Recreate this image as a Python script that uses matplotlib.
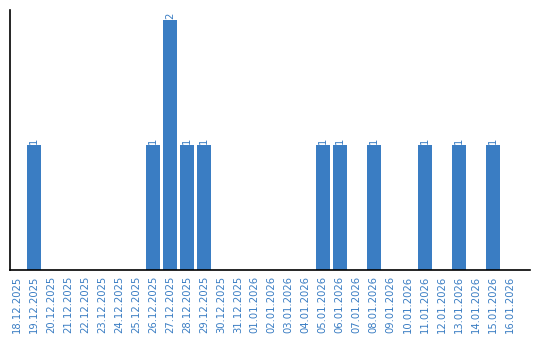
import matplotlib
matplotlib.use("Agg")
import matplotlib.pyplot as plt

dates = ["18.12.2025", "19.12.2025", "20.12.2025", "21.12.2025", "22.12.2025",
         "23.12.2025", "24.12.2025", "25.12.2025", "26.12.2025", "27.12.2025",
         "28.12.2025", "29.12.2025", "30.12.2025", "31.12.2025", "01.01.2026",
         "02.01.2026", "03.01.2026", "04.01.2026", "05.01.2026", "06.01.2026",
         "07.01.2026", "08.01.2026", "09.01.2026", "10.01.2026", "11.01.2026",
         "12.01.2026", "13.01.2026", "14.01.2026", "15.01.2026", "16.01.2026"]
counts = [0, 1, 0, 0, 0, 0, 0, 0, 1, 2,
          1, 1, 0, 0, 0, 0, 0, 0, 1, 1,
          0, 1, 0, 0, 1, 0, 1, 0, 1, 0]

blue = "#3a7dc3"
fig = plt.figure(figsize=(5.4, 3.4), dpi=100)
ax = fig.add_axes([10/540, 70/340, 520/540, 260/340])
x = list(range(len(dates)))
ax.bar(x, counts, width=0.82, color=blue)
for xi, v in zip(x, counts):
    if v > 0:
        ax.text(xi, v + 0.01, str(v), rotation=90, ha="center", va="bottom",
                color=blue, fontsize=7.2)
ax.set_xlim(-0.41, 30.2)
ax.set_ylim(0, 2.08)
ax.set_xticks(x)
ax.set_xticklabels(dates, rotation=90, color=blue, fontsize=7.2)
ax.tick_params(axis="x", length=0, pad=4)
ax.set_yticks([])
ax.spines["top"].set_visible(False)
ax.spines["right"].set_visible(False)
ax.spines["left"].set_linewidth(1.2)
ax.spines["bottom"].set_linewidth(1.2)
fig.savefig("out.png", dpi=100)
